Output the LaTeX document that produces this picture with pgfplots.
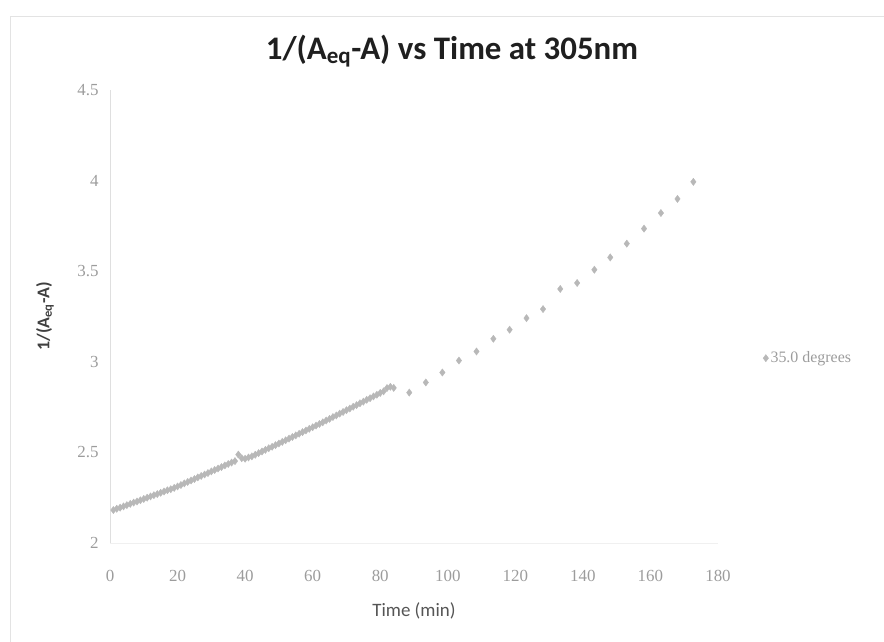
\documentclass[border=0pt]{standalone}
\usepackage{fontspec}
\setmainfont{Carlito}
\newfontfamily\tickfont{Liberation Serif}
\usepackage{pgfplots}
\pgfplotsset{compat=1.18}
\definecolor{markgray}{HTML}{B8B8B8}
\definecolor{tickgray}{HTML}{9C9C9C}
\definecolor{labgray}{HTML}{555555}
\begin{document}
\begin{tikzpicture}
\useasboundingbox (0bp,0bp) rectangle (884bp,642bp);
\draw[gray!22, line width=1bp] (10bp,0bp) -- (10bp,625bp) -- (884bp,625bp);
\begin{axis}[
  at={(110bp,99bp)}, anchor=south west,
  scale only axis, width=608bp, height=453bp,
  xmin=0, xmax=180, ymin=2, ymax=4.5,
  xtick={0,20,...,180}, ytick={2,2.5,3,3.5,4,4.5},
  axis x line*=bottom, axis y line*=left,
  x axis line style={draw=gray!12, line width=0.8bp},
  y axis line style={draw=gray!25, line width=1bp},
  major tick length=0pt,
  /pgf/number format/assume math mode=true,
  ticklabel style={font=\tickfont\fontsize{17}{17}\selectfont, text=tickgray},
  xticklabel style={yshift=-24bp},
  yticklabel style={xshift=-8bp},
  title={1/(A\textsubscript{eq}-A) vs Time at 305nm},
  title style={font=\bfseries\fontsize{33}{33}\selectfont, text=black!88, at={(axis description cs:0.5625,1.072)}, anchor=center},
  xlabel={Time (min)},
  xlabel style={font=\fontsize{19}{19}\selectfont, text=labgray, at={(axis description cs:0.5,-0.150)}, anchor=center},
  ylabel={1/(A\textsubscript{eq}-A)},
  ylabel style={font=\bfseries\fontsize{18}{18}\selectfont, text=black!75, at={(axis description cs:-0.107,0.5)}, anchor=center},
  legend style={at={(axis description cs:1.069,0.408)}, anchor=west, draw=none, fill=none, font=\tickfont\fontsize{16}{16}\selectfont, text=tickgray},
  clip=false,
]
\addplot[only marks, mark=diamond*, mark size=3.6bp, color=markgray] coordinates {
(1,2.182) (2,2.189) (3,2.195) (4,2.202) (5,2.209) (6,2.216) (7,2.223) (8,2.229) (9,2.236) (10,2.243)
(11,2.250) (12,2.257) (13,2.264) (14,2.270) (15,2.277) (16,2.284) (17,2.291) (18,2.297) (19,2.304) (20,2.312)
(21,2.320) (22,2.329) (23,2.337) (24,2.345) (25,2.353) (26,2.362) (27,2.370) (28,2.378) (29,2.386) (30,2.395)
(31,2.403) (32,2.411) (33,2.419) (34,2.428) (35,2.436) (36,2.444) (37,2.452) (38,2.488) (39,2.468) (40,2.465)
(41,2.472) (42,2.478) (43,2.487) (44,2.496) (45,2.505) (46,2.514) (47,2.523) (48,2.531) (49,2.540) (50,2.549)
(51,2.558) (52,2.567) (53,2.576) (54,2.585) (55,2.594) (56,2.603) (57,2.612) (58,2.621) (59,2.630) (60,2.639)
(61,2.648) (62,2.657) (63,2.666) (64,2.676) (65,2.685) (66,2.695) (67,2.704) (68,2.714) (69,2.723) (70,2.733)
(71,2.742) (72,2.752) (73,2.761) (74,2.771) (75,2.780) (76,2.790) (77,2.799) (78,2.809) (79,2.818) (80,2.828)
(81,2.837) (82,2.855) (83,2.862) (84,2.856)
(88.6,2.830) (93.5,2.886) (98.4,2.941) (103.3,3.007) (108.5,3.057) (113.5,3.127) (118.3,3.177) (123.3,3.241)
(128.2,3.291) (133.3,3.402) (138.3,3.435) (143.4,3.508) (148.1,3.576) (153.0,3.652) (158.1,3.735) (163.1,3.821)
(168.0,3.899) (172.7,3.993)
};
\addlegendentry{35.0 degrees}
\end{axis}
\end{tikzpicture}
\end{document}
